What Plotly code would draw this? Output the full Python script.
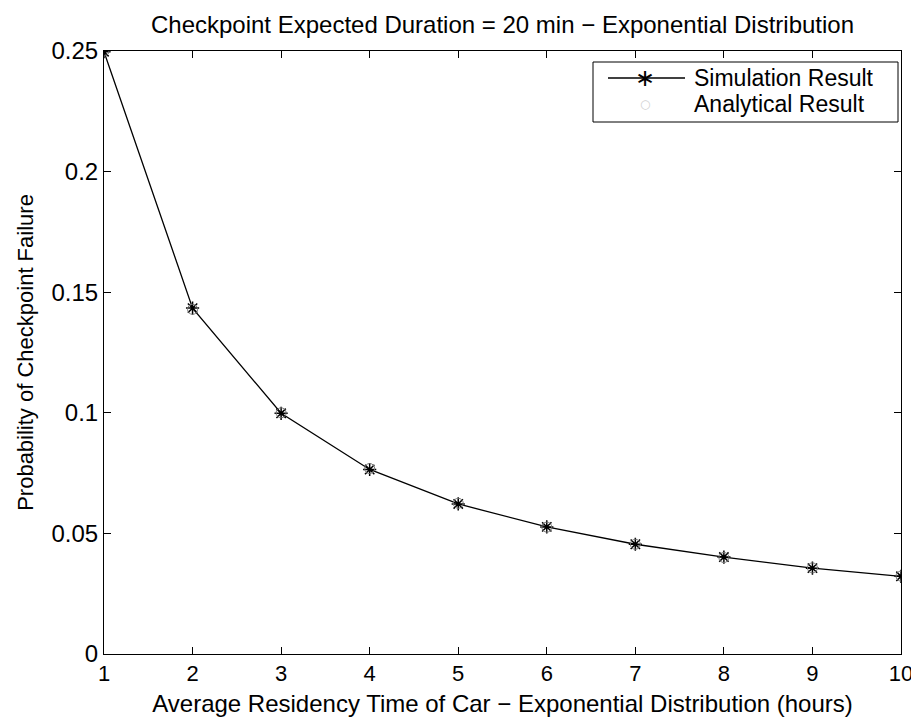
import plotly.graph_objects as go

residency_hours = [1, 2, 3, 4, 5, 6, 7, 8, 9, 10]
simulation = [0.2497, 0.1434, 0.0998, 0.0765, 0.0622, 0.0527, 0.0455, 0.0402, 0.0356, 0.0322]
analytical = [0.25, 0.1429, 0.1, 0.0769, 0.0625, 0.0526, 0.0455, 0.04, 0.0357, 0.0323]
x_ticks = [1, 2, 3, 4, 5, 6, 7, 8, 9, 10]
y_ticks = [0, 0.05, 0.1, 0.15, 0.2, 0.25]
y_tick_labels = ["0", "0.05", "0.1", "0.15", "0.2", "0.25"]
legend_labels = ["Simulation Result", "Analytical Result"]

FONT = "Liberation Sans, Arial, sans-serif"

fig = go.Figure()
fig.add_trace(go.Scatter(
    x=residency_hours, y=simulation, mode="lines+markers", name=legend_labels[0],
    line=dict(color="black", width=1.3),
    marker=dict(symbol="asterisk-open", size=11, color="black", line=dict(color="black", width=1.5)),
    showlegend=False,
))
fig.add_trace(go.Scatter(
    x=residency_hours, y=analytical, mode="markers", name=legend_labels[1],
    marker=dict(symbol="circle-open", size=10, color="#777777", line=dict(color="#777777", width=1)),
    showlegend=False,
))

# page has an 8px body margin; figure coords = page coords - 8
W, H = 911, 713
L, T = 96, 43
PW, PH = 797, 603
R = W - L - PW
B = H - T - PH


def px(x):  # figure px -> paper x
    return (x - L) / PW


def py(y):  # figure px -> paper y
    return 1 - (y - T) / PH


# legend box (figure px)
LB_X0, LB_X1, LB_Y0, LB_Y1 = 585, 890, 54, 114
ROW1, ROW2 = 70, 96
SYM_X0, SYM_X1, SYM_C, TXT_X = 600, 677, 637, 684

shapes = [
    dict(type="rect", xref="paper", yref="paper", x0=px(LB_X0), x1=px(LB_X1), y0=py(LB_Y1), y1=py(LB_Y0),
         line=dict(color="black", width=1), fillcolor="white", layer="above"),
    dict(type="line", xref="paper", yref="paper", x0=px(SYM_X0), x1=px(SYM_X1), y0=py(ROW1), y1=py(ROW1),
         line=dict(color="black", width=1.3), layer="above"),
]
annotations = [
    dict(text=legend_labels[0], xref="paper", yref="paper", x=px(TXT_X), y=py(ROW1), xanchor="left",
         yanchor="middle", showarrow=False, font=dict(size=23, family=FONT, color="black")),
    dict(text=legend_labels[1], xref="paper", yref="paper", x=px(TXT_X), y=py(ROW2), xanchor="left",
         yanchor="middle", showarrow=False, font=dict(size=23, family=FONT, color="black")),
    dict(text="\u2217", xref="paper", yref="paper", x=px(SYM_C), y=py(ROW1), xanchor="center",
         yanchor="middle", showarrow=False, font=dict(size=24, family="DejaVu Sans", color="black")),
    dict(text="\u25cb", xref="paper", yref="paper", x=px(SYM_C), y=py(ROW2), xanchor="center",
         yanchor="middle", showarrow=False, font=dict(size=12, family="DejaVu Sans", color="#d0d0d0")),
]

fig.update_layout(
    width=W, height=H,
    margin=dict(l=L, r=R, t=T, b=B),
    paper_bgcolor="white", plot_bgcolor="white",
    font=dict(family=FONT, color="black", size=24),
    title=dict(text="Checkpoint Expected Duration = 20 min \u2212 Exponential Distribution",
               x=(L + PW / 2) / W, xanchor="center", y=1 - 17 / H, yanchor="middle",
               font=dict(size=24, family=FONT)),
    showlegend=False,
    shapes=shapes,
    annotations=annotations,
)
fig.update_xaxes(
    range=[1, 10], tickvals=x_ticks, ticks="inside", ticklen=7, tickcolor="black",
    showline=True, linecolor="black", linewidth=1, mirror="ticks", automargin=False,
    showgrid=False, zeroline=False, tickfont=dict(size=22), ticklabeloverflow="allow",
    title=dict(text="Average Residency Time of Car \u2212 Exponential Distribution (hours)",
               font=dict(size=24), standoff=9),
)
fig.update_yaxes(
    range=[0, 0.25], tickvals=y_ticks, ticktext=y_tick_labels, ticks="inside", ticklen=7,
    tickcolor="black", showline=True, linecolor="black", linewidth=1, mirror="ticks", automargin=False,
    showgrid=False, zeroline=False, tickfont=dict(size=24), ticklabeloverflow="allow",
    title=dict(text="Probability of Checkpoint Failure", font=dict(size=22), standoff=11),
)

fig.write_html("out.html")
